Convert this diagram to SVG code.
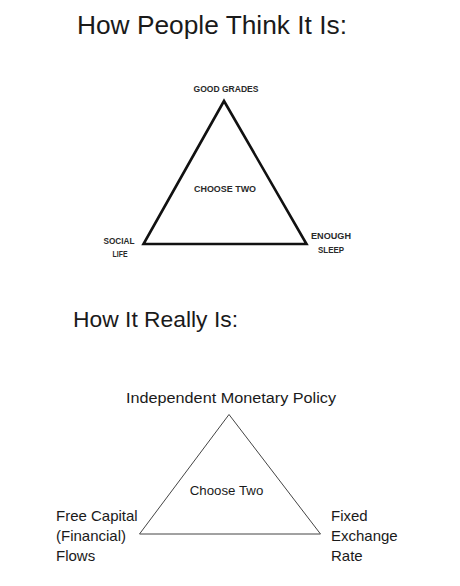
<svg xmlns="http://www.w3.org/2000/svg" width="460" height="586" viewBox="0 0 460 586">
<style>
.title{font-family:"Liberation Sans",Arial,sans-serif;fill:#1a1a1a}
.cap{font-family:"Liberation Sans",Arial,sans-serif;font-weight:bold;font-size:8.5px;fill:#2a2a2a}
.lbl{font-family:"Liberation Sans",Arial,sans-serif;fill:#1a1a1a}
.thick{fill:none;stroke:#111;stroke-width:2.6;stroke-linejoin:miter}
.thin{fill:none;stroke:#444;stroke-width:1}
</style>
<rect width="460" height="586" fill="#fff"/>
<text class="title" x="77" y="34" font-size="25.5" textLength="270" lengthAdjust="spacingAndGlyphs">How People Think It Is:</text>
<g id="top-triangle">
<polygon class="thick" points="224,101 143.5,244 306.5,244"/>
</g>
<g id="good-grades"><text class="cap" x="226" y="92" text-anchor="middle" textLength="65" lengthAdjust="spacingAndGlyphs">GOOD GRADES</text></g>
<g id="choose-two-top"><text class="cap" x="225" y="192.3" text-anchor="middle" textLength="62" lengthAdjust="spacingAndGlyphs">CHOOSE TWO</text></g>
<g id="social-life"><text class="cap" x="119" y="244" text-anchor="middle" textLength="31" lengthAdjust="spacingAndGlyphs">SOCIAL</text><text class="cap" x="120" y="256.5" text-anchor="middle" textLength="15" lengthAdjust="spacingAndGlyphs">LIFE</text></g>
<g id="enough-sleep"><text class="cap" x="331" y="239.3" text-anchor="middle" textLength="40" lengthAdjust="spacingAndGlyphs">ENOUGH</text><text class="cap" x="331" y="252.7" text-anchor="middle" textLength="26" lengthAdjust="spacingAndGlyphs">SLEEP</text></g>
<text class="title" x="73" y="327" font-size="22" textLength="165" lengthAdjust="spacingAndGlyphs">How It Really Is:</text>
<g id="bottom-triangle">
<polygon class="thin" points="229,414.5 139.5,534 320.5,534"/>
</g>
<g id="monetary-policy"><text class="lbl" x="126" y="402.5" font-size="15.5" textLength="210" lengthAdjust="spacingAndGlyphs">Independent Monetary Policy</text></g>
<g id="choose-two-bottom"><text class="lbl" x="189.7" y="495" font-size="13" textLength="73.6" lengthAdjust="spacingAndGlyphs">Choose Two</text></g>
<g id="free-capital"><text class="lbl" font-size="15"><tspan x="56" y="520.7">Free Capital</tspan><tspan x="56" y="540.7">(Financial)</tspan><tspan x="56" y="560.7">Flows</tspan></text></g>
<g id="fixed-exchange"><text class="lbl" font-size="15"><tspan x="331" y="520.7">Fixed</tspan><tspan x="331" y="540.7">Exchange</tspan><tspan x="331" y="560.7">Rate</tspan></text></g>
</svg>
